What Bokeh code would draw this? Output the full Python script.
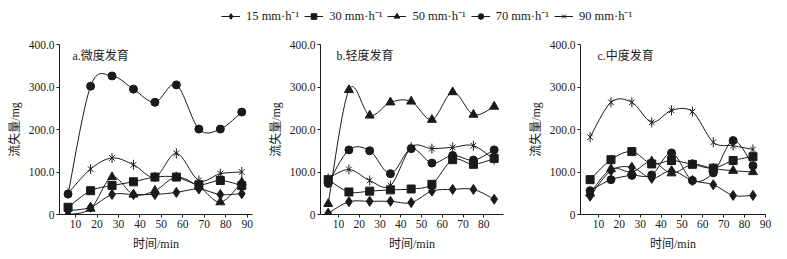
import numpy as np
from bokeh.plotting import figure
from bokeh.layouts import column, row
from bokeh.models import Range1d, Label, Legend, LegendItem, FixedTicker
from bokeh.embed import file_html
from bokeh.resources import INLINE

series_names = ["15 mm·h⁻¹", "30 mm·h⁻¹", "50 mm·h⁻¹", "70 mm·h⁻¹", "90 mm·h⁻¹"]
series_markers = ["diamond", "square", "triangle", "circle", "star"]

panel_titles = ["a.微度发育", "b.轻度发育", "c.中度发育"]
x_label = "时间/min"
y_label = "流失量/mg"
x_ticks = [10, 20, 30, 40, 50, 60, 70, 80, 90]
y_ticks = [0, 100, 200, 300, 400]
y_tick_labels = ["0", "100.0", "200.0", "300.0", "400.0"]

time_a = [6.5, 17, 27, 37, 47, 57, 67.5, 77.5, 87.5]
a_15 = [9, 17, 47, 47, 47, 52, 60, 47, 49]
a_30 = [17, 56, 68, 77, 88, 88, 70, 80, 68]
a_50 = [0, 14, 88, 47, 56, 88, 66, 29, 76]
a_70 = [48, 302, 326, 295, 264, 305, 201, 201, 241]
a_90 = [50, 107, 133, 117, 88, 144, 80, 96, 100]

time_b = [5, 15, 25, 35, 45, 55, 65, 75, 85]
b_15 = [3, 30, 31, 31, 28, 55, 59, 59, 36]
b_30 = [82, 53, 55, 58, 60, 71, 129, 118, 132]
b_50 = [25, 293, 233, 264, 266, 223, 288, 235, 254]
b_70 = [73, 152, 150, 96, 155, 121, 139, 128, 152]
b_90 = [85, 106, 80, 68, 158, 155, 158, 162, 129]

time_c = [6, 16, 26, 35.5, 45, 55, 65, 74.5, 84]
c_15 = [43, 103, 111, 85, 103, 80, 70, 45, 45]
c_30 = [82, 129, 148, 119, 127, 118, 109, 127, 136]
c_50 = [50, 107, 100, 125, 97, 118, 108, 103, 100]
c_70 = [56, 82, 92, 93, 145, 80, 98, 174, 115]
c_90 = [182, 264, 264, 217, 245, 242, 170, 162, 153]

panels = [
    (time_a, [a_15, a_30, a_50, a_70, a_90]),
    (time_b, [b_15, b_30, b_50, b_70, b_90]),
    (time_c, [c_15, c_30, c_50, c_70, c_90]),
]

FONT = "'Liberation Serif', 'Noto Sans CJK SC'"
INK = "#1a1a1a"

# layout geometry (pixels)
x_ranges = [(2.5, 92.5), (1.3, 89.5), (1.4, 90.0)]
widths = [265, 260, 260]
borders_left = [59, 44, 48]
borders_right = [13, 22, 20]
title_offsets = [13, 16, 17]
LEG_H = 32
FIG_H = 227
TOP = 12
BOTTOM = 45
FRAME_H = FIG_H - TOP - BOTTOM

MARKER_SIZE = {"diamond": 10, "square": 8, "triangle": 9, "circle": 8}


def smooth_segments(xs, ys):
    xs = np.asarray(xs, float)
    ys = np.asarray(ys, float)
    n = len(xs)
    out = {k: [] for k in ["x0", "y0", "x1", "y1", "cx0", "cy0", "cx1", "cy1"]}
    for i in range(n - 1):
        i0 = max(i - 1, 0)
        i3 = min(i + 2, n - 1)
        out["x0"].append(xs[i]); out["y0"].append(ys[i])
        out["x1"].append(xs[i + 1]); out["y1"].append(ys[i + 1])
        out["cx0"].append(xs[i] + (xs[i + 1] - xs[i0]) / 6)
        out["cy0"].append(ys[i] + (ys[i + 1] - ys[i0]) / 6)
        out["cx1"].append(xs[i + 1] - (xs[i3] - xs[i]) / 6)
        out["cy1"].append(ys[i + 1] - (ys[i3] - ys[i]) / 6)
    return out


def draw_marker(p, xs, ys, kind):
    rs = []
    if kind == "star":
        rs.append(p.scatter(xs, ys, marker="x", size=8, line_color=INK, line_width=1))
        rs.append(p.scatter(xs, ys, marker="dash", angle=np.pi / 2, size=10,
                            line_color=INK, line_width=1))
    else:
        rs.append(p.scatter(xs, ys, marker=kind, size=MARKER_SIZE[kind], color=INK))
    return rs


figs = []
for k, (t, series) in enumerate(panels):
    p = figure(width=widths[k], height=FIG_H, output_backend="svg",
               toolbar_location=None,
               x_range=Range1d(*x_ranges[k]), y_range=Range1d(0, 400),
               min_border_left=borders_left[k], min_border_right=borders_right[k],
               min_border_top=TOP, min_border_bottom=BOTTOM)
    p.outline_line_color = None
    p.xgrid.visible = False
    p.ygrid.visible = False
    for vals, kind in zip(series, series_markers):
        seg = smooth_segments(t, vals)
        p.bezier(x0=seg["x0"], y0=seg["y0"], x1=seg["x1"], y1=seg["y1"],
                 cx0=seg["cx0"], cy0=seg["cy0"], cx1=seg["cx1"], cy1=seg["cy1"],
                 line_color=INK, line_width=1)
        draw_marker(p, t, vals, kind)

    p.xaxis.ticker = FixedTicker(ticks=x_ticks)
    p.yaxis.ticker = FixedTicker(ticks=y_ticks)
    p.yaxis.major_label_overrides = {v: s for v, s in zip(y_ticks, y_tick_labels)}
    for ax in (p.xaxis[0], p.yaxis[0]):
        ax.axis_line_color = INK
        ax.major_tick_line_color = INK
        ax.major_tick_out = 3
        ax.major_tick_in = 0
        ax.minor_tick_line_color = None
        ax.major_label_text_font = FONT
        ax.major_label_text_font_size = "11.5px"
        ax.major_label_text_color = INK
        ax.major_label_standoff = 2
        ax.axis_label_text_font = FONT
        ax.axis_label_text_font_size = "12px"
        ax.axis_label_text_font_style = "normal"
        ax.axis_label_text_color = INK
    p.xaxis.axis_label = x_label
    p.yaxis.axis_label = y_label
    p.xaxis.axis_label_standoff = 6
    p.yaxis.axis_label_standoff = 4

    p.add_layout(Label(x=title_offsets[k], y=FRAME_H - 11,
                       x_units="screen", y_units="screen",
                       text=panel_titles[k], text_font=FONT,
                       text_font_size="12px", text_color=INK,
                       text_baseline="middle"))
    figs.append(p)

# legend strip
lg = figure(width=785, height=LEG_H, output_backend="svg", toolbar_location=None,
            x_range=Range1d(0, 1), y_range=Range1d(0, 1), min_border=0)
lg.axis.visible = False
lg.xgrid.visible = False
lg.ygrid.visible = False
lg.outline_line_color = None

items = []
for name, kind in zip(series_names, series_markers):
    rs = [lg.line(x=[-5, -4], y=[-5, -4], line_color=INK, line_width=1)]
    rs += draw_marker(lg, [-5], [-5], kind)
    items.append(LegendItem(label=name, renderers=rs))

legend = Legend(items=items, orientation="horizontal", location=(221, 8),
                glyph_width=19, glyph_height=14, label_standoff=6, spacing=5,
                padding=0, margin=0, border_line_color=None,
                background_fill_alpha=0,
                label_text_font=FONT, label_text_font_size="12.5px",
                label_text_color=INK, label_height=14)
lg.add_layout(legend)

layout = column(lg, row(*figs, spacing=0), spacing=0)

open("out.html", "w").write(file_html(layout, INLINE))
